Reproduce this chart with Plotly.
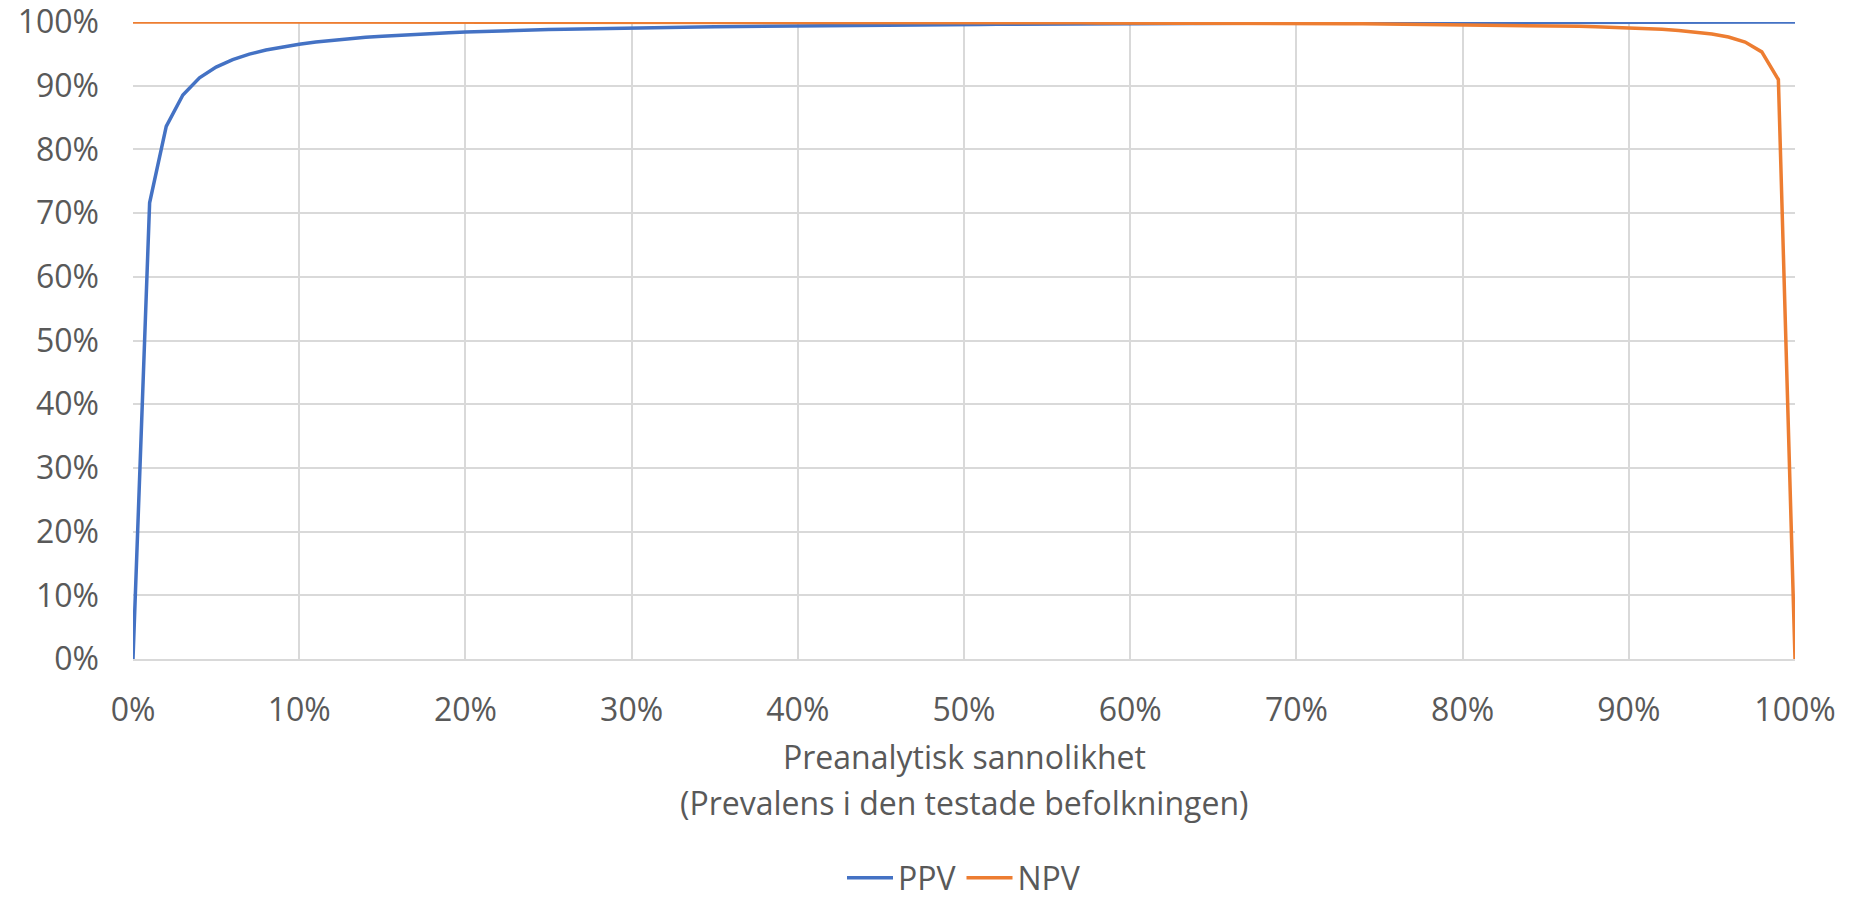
import plotly.graph_objects as go

# Prevalens (andel av den testade befolkningen), 0–100 % i steg om 1 %
prevalens = [i / 100 for i in range(101)]

# Positivt prediktivt värde
ppv = [
    0.0000, 0.7161, 0.8360, 0.8854, 0.9123, 0.9293, 0.9410, 0.9495, 0.9560, 0.9611,
    0.9652, 0.9686, 0.9715, 0.9739, 0.9760, 0.9778, 0.9794, 0.9808, 0.9821, 0.9832,
    0.9842, 0.9852, 0.9860, 0.9868, 0.9875, 0.9881, 0.9887, 0.9893, 0.9898, 0.9903,
    0.9907, 0.9912, 0.9916, 0.9919, 0.9923, 0.9926, 0.9929, 0.9932, 0.9935, 0.9938,
    0.9940, 0.9943, 0.9945, 0.9947, 0.9949, 0.9951, 0.9953, 0.9955, 0.9957, 0.9958,
    0.9960, 0.9962, 0.9963, 0.9965, 0.9966, 0.9967, 0.9969, 0.9970, 0.9971, 0.9972,
    0.9973, 0.9974, 0.9976, 0.9977, 0.9978, 0.9978, 0.9979, 0.9980, 0.9981, 0.9982,
    0.9983, 0.9984, 0.9984, 0.9985, 0.9986, 0.9987, 0.9987, 0.9988, 0.9989, 0.9989,
    0.9990, 0.9991, 0.9991, 0.9992, 0.9992, 0.9993, 0.9993, 0.9994, 0.9995, 0.9995,
    0.9996, 0.9996, 0.9997, 0.9997, 0.9997, 0.9998, 0.9998, 0.9999, 0.9999, 1.0000,
    1.0000,
]

# Negativt prediktivt värde
npv = [
    1.0000, 1.0000, 1.0000, 1.0000, 1.0000, 0.9999, 0.9999, 0.9999, 0.9999, 0.9999,
    0.9999, 0.9999, 0.9999, 0.9999, 0.9998, 0.9998, 0.9998, 0.9998, 0.9998, 0.9998,
    0.9997, 0.9997, 0.9997, 0.9997, 0.9997, 0.9997, 0.9996, 0.9996, 0.9996, 0.9996,
    0.9996, 0.9995, 0.9995, 0.9995, 0.9995, 0.9995, 0.9994, 0.9994, 0.9994, 0.9994,
    0.9993, 0.9993, 0.9993, 0.9992, 0.9992, 0.9992, 0.9991, 0.9991, 0.9991, 0.9990,
    0.9990, 0.9990, 0.9989, 0.9989, 0.9988, 0.9988, 0.9987, 0.9987, 0.9986, 0.9986,
    0.9985, 0.9984, 0.9984, 0.9983, 0.9982, 0.9981, 0.9981, 0.9980, 0.9979, 0.9978,
    0.9977, 0.9975, 0.9974, 0.9973, 0.9972, 0.9970, 0.9968, 0.9966, 0.9965, 0.9962,
    0.9960, 0.9957, 0.9954, 0.9951, 0.9948, 0.9943, 0.9939, 0.9933, 0.9927, 0.9919,
    0.9910, 0.9900, 0.9886, 0.9868, 0.9845, 0.9813, 0.9765, 0.9686, 0.9531, 0.9096,
    0.0000,
]

tick_vals = [i / 10 for i in range(11)]
tick_text = [f"{i * 10}%" for i in range(11)]

x_title_lines = ["Preanalytisk sannolikhet", "(Prevalens i den testade befolkningen)"]

text_color = "#595959"
grid_color = "#d9d9d9"
font_family = "Open Sans, Noto Sans, sans-serif"
font_size = 32

fig = go.Figure()
fig.add_trace(go.Scatter(
    x=prevalens, y=ppv, mode="lines", name="PPV",
    line=dict(color="#4472C4", width=3.5), cliponaxis=False,
))
fig.add_trace(go.Scatter(
    x=prevalens, y=npv, mode="lines", name="NPV",
    line=dict(color="#ED7D31", width=3.5), cliponaxis=False,
))

# Two-line x-axis title, with wider line spacing than a single <br> title gives
for text, ypos in zip(x_title_lines, [-0.1523, -0.2245]):
    fig.add_annotation(
        text=text, xref="paper", yref="paper", x=0.5, y=ypos,
        xanchor="center", yanchor="middle", showarrow=False,
        font=dict(size=font_size, color=text_color, family=font_family),
    )

fig.update_layout(
    width=1859, height=901,
    margin=dict(l=133, r=64, t=22, b=242, autoexpand=False),
    paper_bgcolor="white", plot_bgcolor="white",
    font=dict(family=font_family, size=font_size, color=text_color),
    showlegend=True,
    legend=dict(
        orientation="h", x=0.5, xanchor="center", y=-0.3438, yanchor="middle",
        font=dict(size=font_size, color=text_color), itemwidth=46,
        traceorder="normal", borderwidth=0,
    ),
    xaxis=dict(
        range=[0, 1], tickvals=tick_vals, ticktext=tick_text,
        showgrid=True, gridcolor=grid_color, gridwidth=1.5,
        zeroline=False, showline=True, linecolor=grid_color, linewidth=1.5,
        ticks="", ticklabelstandoff=22, automargin=False,
        ticklabeloverflow="allow",
    ),
    yaxis=dict(
        range=[0, 1], tickvals=tick_vals, ticktext=tick_text,
        showgrid=True, gridcolor=grid_color, gridwidth=1.5,
        zeroline=False, showline=False, ticks="", ticklabelstandoff=33,
        automargin=False, ticklabeloverflow="allow",
    ),
)

fig.write_html("out.html")
